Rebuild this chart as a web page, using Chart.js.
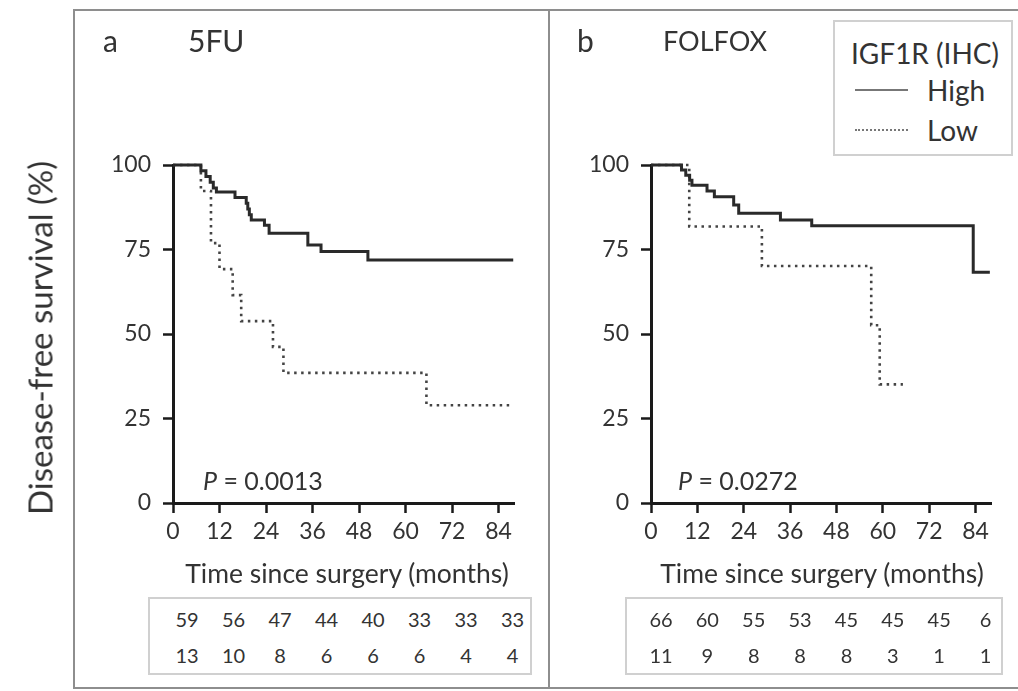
<!DOCTYPE html>
<html><head><meta charset="utf-8">
<script src="https://cdn.jsdelivr.net/npm/chart.js@4.4.1/dist/chart.umd.min.js"></script>
<style>
html,body{margin:0;padding:0;background:#fff;}
#wrap{position:relative;width:1018px;height:691px;overflow:hidden;font-family:Lato,'Open Sans',sans-serif;color:#333;}
canvas{position:absolute;top:0;}
.t{position:absolute;white-space:nowrap;line-height:1;}
.c{transform:translate(-50%,-50%);}
.l{transform:translateY(-50%);}
.fr{position:absolute;background:#8e8e8e;}
.box{position:absolute;border:2px solid #d0d0d0;box-sizing:border-box;background:#fff;}
</style></head>
<body><div id="wrap">
<div class="fr" style="left:73px;top:9px;width:945px;height:2px"></div>
<div class="fr" style="left:73px;top:9px;width:2px;height:680px"></div>
<div class="fr" style="left:548px;top:9px;width:2px;height:680px"></div>
<div class="fr" style="left:73px;top:687px;width:945px;height:2px"></div>
<canvas id="ca" width="549" height="691" style="left:0"></canvas>
<canvas id="cb" width="469" height="691" style="left:549px"></canvas>
<div class="t c" style="left:40px;top:338px;font-size:33px;transform:translate(-50%,-50%) rotate(-90deg)">Disease-free survival (%)</div>
<div class="t l" style="left:103px;top:40px;font-size:30px">a</div>
<div class="t l" style="left:188px;top:40px;font-size:30px">5FU</div>
<div class="t l" style="left:577px;top:40px;font-size:30px">b</div>
<div class="t l" style="left:663px;top:40px;font-size:27px">FOLFOX</div>
<div class="t c" style="left:347px;top:573px;font-size:26.5px">Time since surgery (months)</div>
<div class="t c" style="left:822px;top:573px;font-size:26.5px">Time since surgery (months)</div>
<div class="t l" style="left:203px;top:480px;font-size:25px"><i>P</i> = 0.0013</div>
<div class="t l" style="left:678px;top:480px;font-size:25px"><i>P</i> = 0.0272</div>
<div class="box" style="left:833px;top:20px;width:180px;height:136px"></div>
<div class="t l" style="left:851px;top:53px;font-size:28px">IGF1R (IHC)</div>
<div style="position:absolute;left:855px;top:89px;width:53px;border-top:2.5px solid #777"></div>
<div style="position:absolute;left:855px;top:129px;width:53px;border-top:2.5px dotted #777"></div>
<div class="t l" style="left:927px;top:90px;font-size:28px">High</div>
<div class="t l" style="left:927px;top:130px;font-size:28px">Low</div>
<div class="box" style="left:148px;top:597px;width:384px;height:78px"></div>
<div class="box" style="left:625px;top:597px;width:378px;height:78px"></div>
<div id="tables"></div>
</div>
<script>
const FONT = "Lato, 'Open Sans', sans-serif";
const timeTicks = [0, 12, 24, 36, 48, 60, 72, 84];
const survTicks = [0, 25, 50, 75, 100];

// Panel a: 5FU
const aHighTime = [0, 7.2, 8.5, 9.6, 10.4, 11.2, 16.0, 18.9, 19.3, 19.7, 20.2, 23.6, 24.8, 34.8, 38.2, 50.3, 87.8];
const aHighSurv = [100, 98.3, 96.6, 94.9, 93.2, 92.0, 90.4, 88.7, 87.0, 85.3, 83.7, 82.2, 79.8, 76.3, 74.4, 71.9, 71.9];
const aLowTime = [0, 7.2, 9.8, 12.0, 15.4, 17.6, 25.8, 28.5, 65.4, 87.8];
const aLowSurv = [100, 92.3, 76.9, 69.2, 61.5, 53.8, 46.2, 38.5, 28.9, 28.9];

// Panel b: FOLFOX
const bHighTime = [0, 7.9, 9.0, 10.0, 10.6, 14.5, 16.4, 21.4, 22.7, 33.5, 41.6, 83.4, 87.7];
const bHighSurv = [100, 98.5, 97.0, 95.5, 94.0, 92.3, 90.6, 88.2, 85.7, 83.7, 82.0, 68.3, 68.3];
const bLowTime = [0, 9.9, 28.7, 57.0, 59.2, 65.2];
const bLowSurv = [100, 81.8, 70.1, 52.6, 35.1, 35.1];

// Numbers at risk
const riskAHigh = [59, 56, 47, 44, 40, 33, 33, 33];
const riskALow = [13, 10, 8, 6, 6, 6, 4, 4];
const riskBHigh = [66, 60, 55, 53, 45, 45, 45, 6];
const riskBLow = [11, 9, 8, 8, 8, 3, 1, 1];

const AX = '#1a1a1a';
function pts(t, s) { return t.map((v, i) => ({ x: v, y: s[i] })); }
function ds(t, s, dotted) {
  return {
    data: pts(t, s), stepped: true, pointRadius: 0, fill: false, tension: 0, clip: 8,
    borderColor: dotted ? '#444' : '#2a2a2a', borderWidth: dotted ? 2.6 : 3,
    borderDash: dotted ? [2.5, 4.5] : [], borderCapStyle: 'butt'
  };
}
function makeChart(id, sets, padL, padR) {
  const tickFont = { family: FONT, size: 23 };
  const grid = { drawOnChartArea: false, drawTicks: true, tickLength: 10, tickWidth: 2.5, tickColor: AX };
  return new Chart(document.getElementById(id), {
    type: 'line',
    data: { datasets: sets },
    options: {
      animation: false, responsive: false, events: [],
      layout: { padding: { left: padL, right: padR, top: 165, bottom: 128 } },
      plugins: { legend: { display: false }, tooltip: { enabled: false } },
      scales: {
        x: {
          type: 'linear', min: 0, max: 88,
          afterBuildTicks: s => { s.ticks = timeTicks.map(v => ({ value: v })); },
          afterFit: s => { s.height = 60; },
          ticks: { font: tickFont, color: '#333', padding: 5, maxRotation: 0, autoSkip: false },
          grid: grid, border: { display: true, color: AX, width: 3 }
        },
        y: {
          type: 'linear', min: 0, max: 100,
          afterBuildTicks: s => { s.ticks = survTicks.map(v => ({ value: v })); },
          afterFit: s => { s.width = 73; },
          ticks: { font: tickFont, color: '#333', padding: 12 },
          grid: grid, border: { display: true, color: AX, width: 3 }
        }
      }
    }
  });
}
const ca = makeChart('ca', [ds(aHighTime, aHighSurv, false), ds(aLowTime, aLowSurv, true)], 100, 35);
const cb = makeChart('cb', [ds(bHighTime, bHighSurv, false), ds(bLowTime, bLowSurv, true)], 29, 27);

function table(chart, offsetX, shift, rows) {
  const wrap = document.getElementById('tables');
  const ys = [619, 655];
  rows.forEach((row, r) => {
    row.forEach((v, i) => {
      const x = offsetX + chart.scales.x.getPixelForValue(timeTicks[i]) + shift;
      const d = document.createElement('div');
      d.className = 't c';
      d.style.left = x + 'px'; d.style.top = ys[r] + 'px'; d.style.fontSize = '20px';
      d.textContent = v;
      wrap.appendChild(d);
    });
  });
}
table(ca, 0, 14, [riskAHigh, riskALow]);
table(cb, 549, 10, [riskBHigh, riskBLow]);
</script>
</body></html>
